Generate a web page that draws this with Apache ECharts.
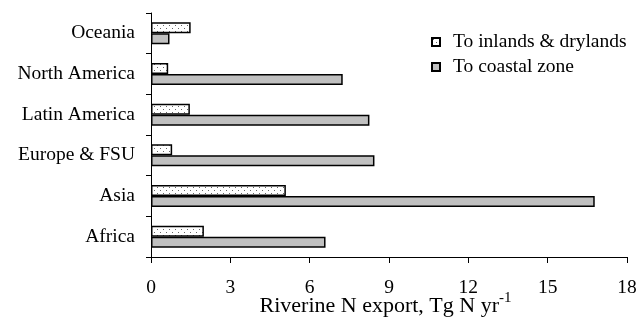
<!DOCTYPE html>
<html>
<head>
<meta charset="utf-8">
<script src="https://cdn.jsdelivr.net/npm/echarts@6/dist/echarts.min.js"></script>
<style>html,body{margin:0;padding:0;background:#fff}#c{width:640px;height:321px}</style>
</head>
<body>
<div id="c"></div>
<script>
var categories = ['Africa', 'Asia', 'Europe & FSU', 'Latin America', 'North America', 'Oceania'];
var inlandValues = [2.0, 5.1, 0.8, 1.47, 0.65, 1.5];
var coastalValues = [6.6, 16.78, 8.45, 8.26, 7.25, 0.7];
var xTicks = [0, 3, 6, 9, 12, 15, 18];

var pc = document.createElement('canvas');
pc.width = 6; pc.height = 6;
var g = pc.getContext('2d');
g.fillStyle = '#ffffff'; g.fillRect(0, 0, 6, 6);
g.fillStyle = '#666666';
g.fillRect(1, 1, 1, 1);
g.fillRect(4, 4, 1, 1);

var font = 'Liberation Serif';
var chart = echarts.init(document.getElementById('c'), null, {renderer: 'canvas'});
chart.setOption({
  animation: false,
  backgroundColor: '#ffffff',
  grid: {left: 151, right: 13, top: 13, bottom: 64, containLabel: false, outerBoundsMode: 'none'},
  legend: {
    orient: 'vertical', left: 426, top: 27, itemWidth: 8, itemHeight: 8, itemGap: 5,
    data: ['To inlands & drylands', 'To coastal zone'],
    textStyle: {fontFamily: font, fontSize: 19.5, color: '#000', padding: [0, 0, 0, 8]},
    icon: 'rect'
  },
  xAxis: {
    type: 'value', min: xTicks[0], max: xTicks[xTicks.length - 1], interval: 3,
    splitLine: {show: false},
    axisLine: {show: true, lineStyle: {color: '#000', width: 1}},
    axisTick: {show: true, length: 6, lineStyle: {color: '#000'}},
    axisLabel: {fontFamily: font, fontSize: 19.5, color: '#000', margin: 21},
    name: '{a|Riverine N export, Tg N yr}{s|-1}',
    nameLocation: 'middle', nameGap: 34, nameMoveOverlap: false,
    nameTextStyle: {
      padding: [0, 7, 0, 0],
      rich: {
        a: {fontFamily: font, fontSize: 22, lineHeight: 26, color: '#000', verticalAlign: 'bottom'},
        s: {fontFamily: font, fontSize: 15, lineHeight: 15, color: '#000', verticalAlign: 'top'}
      }
    }
  },
  yAxis: {
    type: 'category', data: categories,
    axisLine: {show: true, lineStyle: {color: '#000', width: 1}},
    axisTick: {show: true, length: 5, lineStyle: {color: '#000'}},
    axisLabel: {fontFamily: font, fontSize: 19.5, color: '#000', margin: 16}
  },
  series: [
    {
      name: 'To inlands & drylands', type: 'bar', data: inlandValues,
      barWidth: 11, barGap: '0%',
      itemStyle: {color: {image: pc, repeat: 'repeat'}, borderColor: '#000', borderWidth: 1.5}
    },
    {
      name: 'To coastal zone', type: 'bar', data: coastalValues,
      barWidth: 11, barGap: '0%',
      itemStyle: {color: '#c0c0c0', borderColor: '#000', borderWidth: 1.5}
    }
  ]
});
</script>
</body>
</html>
